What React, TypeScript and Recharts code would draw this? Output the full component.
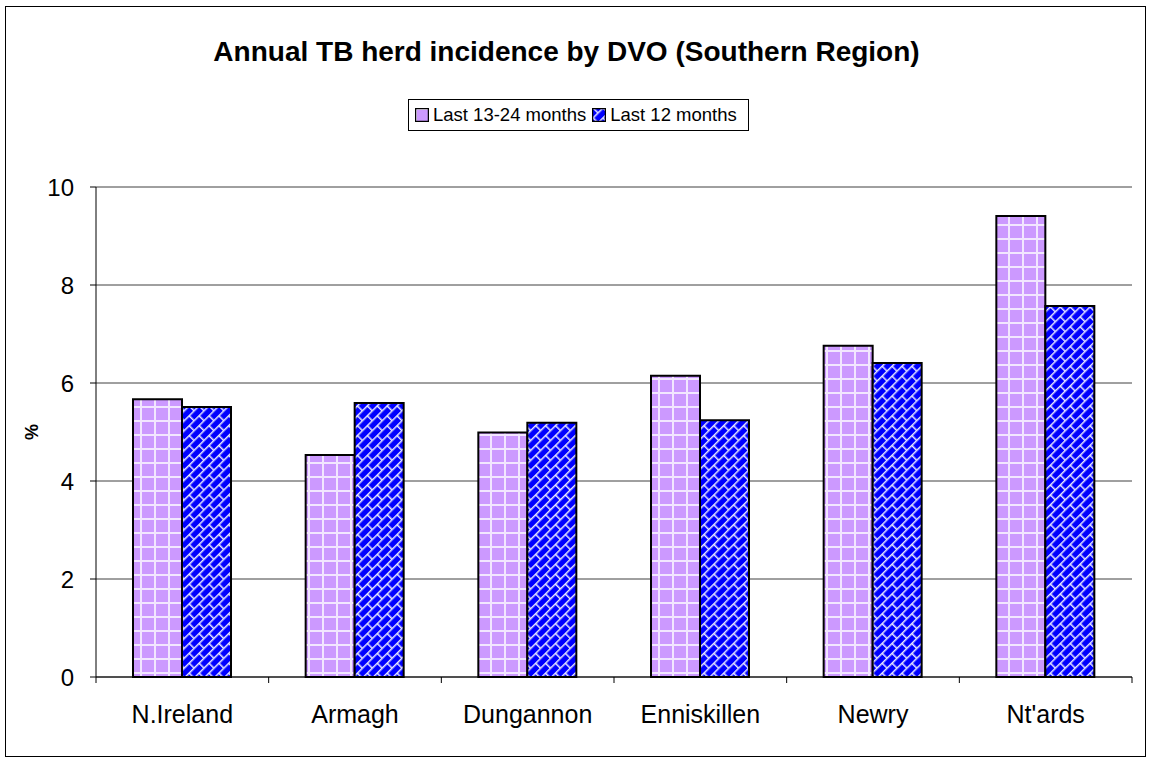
import { Bar, BarChart, CartesianGrid, Legend, XAxis, YAxis } from "recharts";

const dvos = ["N.Ireland", "Armagh", "Dungannon", "Enniskillen", "Newry", "Nt'ards"];
const prev12 = [5.67, 4.53, 4.99, 6.15, 6.76, 9.41];
const last12 = [5.51, 5.59, 5.19, 5.24, 6.41, 7.57];
const yTicks = [0, 2, 4, 6, 8, 10];

const seriesNames = { prev: "Last 13-24 months", last: "Last 12 months" };

const rows = dvos.map((name, i) => ({ name, prev: prev12[i], last: last12[i] }));

const FONT = "'Liberation Sans', Arial, sans-serif";

function XTick(props: any) {
  const { x, y, payload, index, visibleTicksCount } = props;
  const half = typeof payload?.offset === "number" && payload.offset > 0 ? payload.offset : 86.33;
  const axisY = y - 8;
  return (
    <g>
      <line x1={x - half} x2={x - half} y1={axisY} y2={axisY + 6} stroke="#000" />
      {index === visibleTicksCount - 1 && (
        <line x1={x + half} x2={x + half} y1={axisY} y2={axisY + 6} stroke="#000" />
      )}
      <text x={x} y={axisY + 46} textAnchor="middle" fontSize={25} fontFamily={FONT} fill="#000">
        {payload.value}
      </text>
    </g>
  );
}

function LegendBox() {
  const item = (fill: string, label: string) => (
    <span style={{ display: "inline-flex", alignItems: "center", marginRight: 6 }}>
      <svg width={14} height={14} style={{ marginRight: 4 }}>
        <rect x={0.5} y={0.5} width={13} height={13} fill={fill} stroke="#000" strokeWidth={1.5} />
      </svg>
      {label}
    </span>
  );
  return (
    <div
      style={{
        boxSizing: "border-box",
        width: 341,
        height: 32,
        border: "1px solid #000",
        background: "#fff",
        fontFamily: FONT,
        fontSize: 18.5,
        color: "#000",
        display: "flex",
        alignItems: "center",
        paddingLeft: 6,
        whiteSpace: "nowrap",
      }}
    >
      {item("url(#lilacGrid)", seriesNames.prev)}
      {item("url(#blueBrick)", seriesNames.last)}
    </div>
  );
}

export default function App() {
  return (
    <div style={{ position: "absolute", left: 0, top: 0, width: 1149, height: 761, background: "#fff" }}>
      <div
        style={{
          position: "absolute",
          left: 5,
          top: 6,
          width: 1141,
          height: 751,
          border: "1px solid #000",
          boxSizing: "border-box",
        }}
      />
      <div
        style={{
          position: "absolute",
          left: 0,
          top: 36,
          width: 1133,
          textAlign: "center",
          fontFamily: FONT,
          fontWeight: "bold",
          fontSize: 28,
          lineHeight: "32px",
          color: "#000",
        }}
      >
        Annual TB herd incidence by DVO (Southern Region)
      </div>
      <BarChart
        width={1149}
        height={761}
        data={rows}
        margin={{ top: 187, right: 17, bottom: 0, left: 0 }}
        barCategoryGap={37}
        barGap={0}
        style={{ position: "absolute", left: 0, top: 0 }}
      >
        <defs>
          <pattern id="lilacGrid" patternUnits="userSpaceOnUse" width={14} height={14}>
            <rect width={14} height={14} fill="#CC99FF" />
            <rect x={0} y={0} width={2} height={14} fill="#F2E6FF" />
            <rect x={0} y={0} width={14} height={2} fill="#F2E6FF" />
          </pattern>
          <pattern
            id="blueBrick"
            patternUnits="userSpaceOnUse"
            width={14}
            height={14}
            patternTransform="rotate(-45)"
          >
            <rect width={14} height={14} fill="#0000FF" />
            <line x1={0} y1={0.75} x2={14} y2={0.75} stroke="#E6E6FF" strokeWidth={1.5} />
            <line x1={0} y1={7.75} x2={14} y2={7.75} stroke="#E6E6FF" strokeWidth={1.5} />
            <line x1={0.75} y1={0} x2={0.75} y2={7} stroke="#E6E6FF" strokeWidth={1.5} />
            <line x1={7.75} y1={7} x2={7.75} y2={14} stroke="#E6E6FF" strokeWidth={1.5} />
          </pattern>
        </defs>
        <CartesianGrid vertical={false} stroke="#404040" />
        <XAxis
          dataKey="name"
          height={84}
          axisLine={{ stroke: "#000" }}
          tickLine={false}
          interval={0}
          tick={<XTick />}
        />
        <YAxis
          width={96}
          domain={[0, 10]}
          ticks={yTicks}
          interval={0}
          axisLine={{ stroke: "#000" }}
          tickLine={{ stroke: "#000" }}
          tickSize={6}
          tickMargin={16}
          tick={{ fontSize: 24, fill: "#000", fontFamily: FONT }}
          label={({ viewBox }: any) => (
            <text
              x={viewBox.x + 32}
              y={viewBox.y + viewBox.height / 2}
              transform={`rotate(-90, ${viewBox.x + 32}, ${viewBox.y + viewBox.height / 2})`}
              textAnchor="middle"
              dominantBaseline="central"
              fontSize={18}
              fontWeight="bold"
              fontFamily={FONT}
              fill="#000"
            >
              %
            </text>
          )}
        />
        <YAxis
          yAxisId="frame"
          orientation="right"
          width={0}
          domain={[0, 10]}
          tick={false}
          tickLine={false}
          axisLine={{ stroke: "#808080" }}
        />
        <Legend
          layout="vertical"
          align="center"
          verticalAlign="middle"
          wrapperStyle={{ top: 99, left: 408, width: 341 }}
          content={() => <LegendBox />}
        />
        <Bar
          dataKey="prev"
          name={seriesNames.prev}
          fill="url(#lilacGrid)"
          stroke="#000"
          strokeWidth={2}
          isAnimationActive={false}
        />
        <Bar
          dataKey="last"
          name={seriesNames.last}
          fill="url(#blueBrick)"
          stroke="#000"
          strokeWidth={2}
          isAnimationActive={false}
        />
      </BarChart>
    </div>
  );
}
